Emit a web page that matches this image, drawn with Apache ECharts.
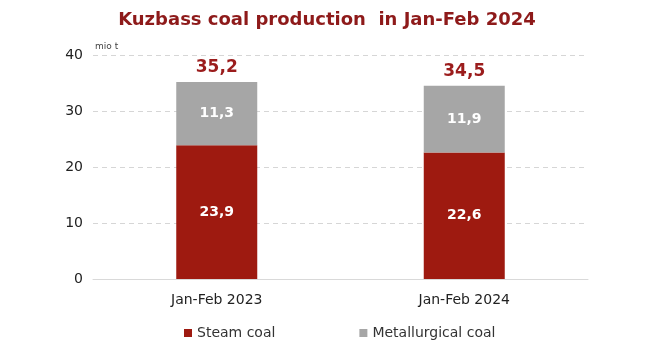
<!DOCTYPE html>
<html><head><meta charset="utf-8">
<script src="https://cdn.jsdelivr.net/npm/echarts@6/dist/echarts.min.js"></script>
<style>html,body{margin:0;padding:0;background:#fff}#c{width:654px;height:362px}</style>
</head><body><div id="c"></div>
<script>
const categories = ['Jan-Feb 2023', 'Jan-Feb 2024'];
const steamCoal = [23.9, 22.6];
const metallurgicalCoal = [11.3, 11.9];
const totals = [35.2, 34.5];
const yTicks = [0, 10, 20, 30, 40];

const fmt = v => v.toFixed(1).replace('.', ',');
const FONT = 'DejaVu Sans';

const chart = echarts.init(document.getElementById('c'));
chart.setOption({
  animation: false,
  backgroundColor: '#fff',
  title: {
    text: 'Kuzbass coal production  in Jan-Feb 2024',
    left: 'center', top: 6,
    textStyle: { fontFamily: FONT, fontSize: 18, fontWeight: 'bold', color: '#8E1A1A' }
  },
  legend: {
    data: ['Steam coal', 'Metallurgical coal'],
    bottom: 17, left: 179,
    itemWidth: 8, itemHeight: 8, itemGap: 84,
    icon: 'rect',
    textStyle: { fontFamily: FONT, fontSize: 14, color: '#333' }
  },
  grid: { left: 93, right: 66, top: 55, bottom: 83 },
  xAxis: {
    type: 'category', data: categories,
    axisLine: { lineStyle: { color: '#D9D9D9', width: 1 } },
    axisTick: { show: false },
    axisLabel: { fontFamily: FONT, fontSize: 14, color: '#222', margin: 14 }
  },
  yAxis: {
    type: 'value', min: 0, max: 40, interval: 10,
    name: 'mio t', nameLocation: 'end', nameGap: 4,
    nameTextStyle: { fontFamily: FONT, fontSize: 9, color: '#444', align: 'left', padding: [0, 0, 0, 2] },
    axisLine: { show: false }, axisTick: { show: false },
    axisLabel: { fontFamily: FONT, fontSize: 14, color: '#222', margin: 10,
      formatter: v => yTicks.includes(v) ? String(v) : '' },
    splitLine: { lineStyle: { color: '#D6D6D6', type: [5, 4], width: 1 } }
  },
  series: [
    {
      name: 'Steam coal', type: 'bar', stack: 't', data: steamCoal, barWidth: 81,
      itemStyle: { color: '#9E1A10' },
      label: { show: true, position: 'inside', formatter: p => fmt(p.value),
        fontFamily: FONT, fontSize: 14, fontWeight: 'bold', color: '#fff' }
    },
    {
      name: 'Metallurgical coal', type: 'bar', stack: 't', data: metallurgicalCoal, barWidth: 81,
      itemStyle: { color: '#A6A6A6' },
      label: { show: true, position: 'inside', formatter: p => fmt(p.value),
        fontFamily: FONT, fontSize: 14, fontWeight: 'bold', color: '#fff' }
    },
    {
      name: 'Total', type: 'bar', stack: 't', data: totals.map(() => 0), barWidth: 81,
      itemStyle: { color: 'transparent' },
      label: { show: true, position: 'top', distance: 6,
        formatter: p => fmt(totals[p.dataIndex]),
        fontFamily: FONT, fontSize: 17, fontWeight: 'bold', color: '#9B1C1C' }
    }
  ]
});
</script></body></html>
